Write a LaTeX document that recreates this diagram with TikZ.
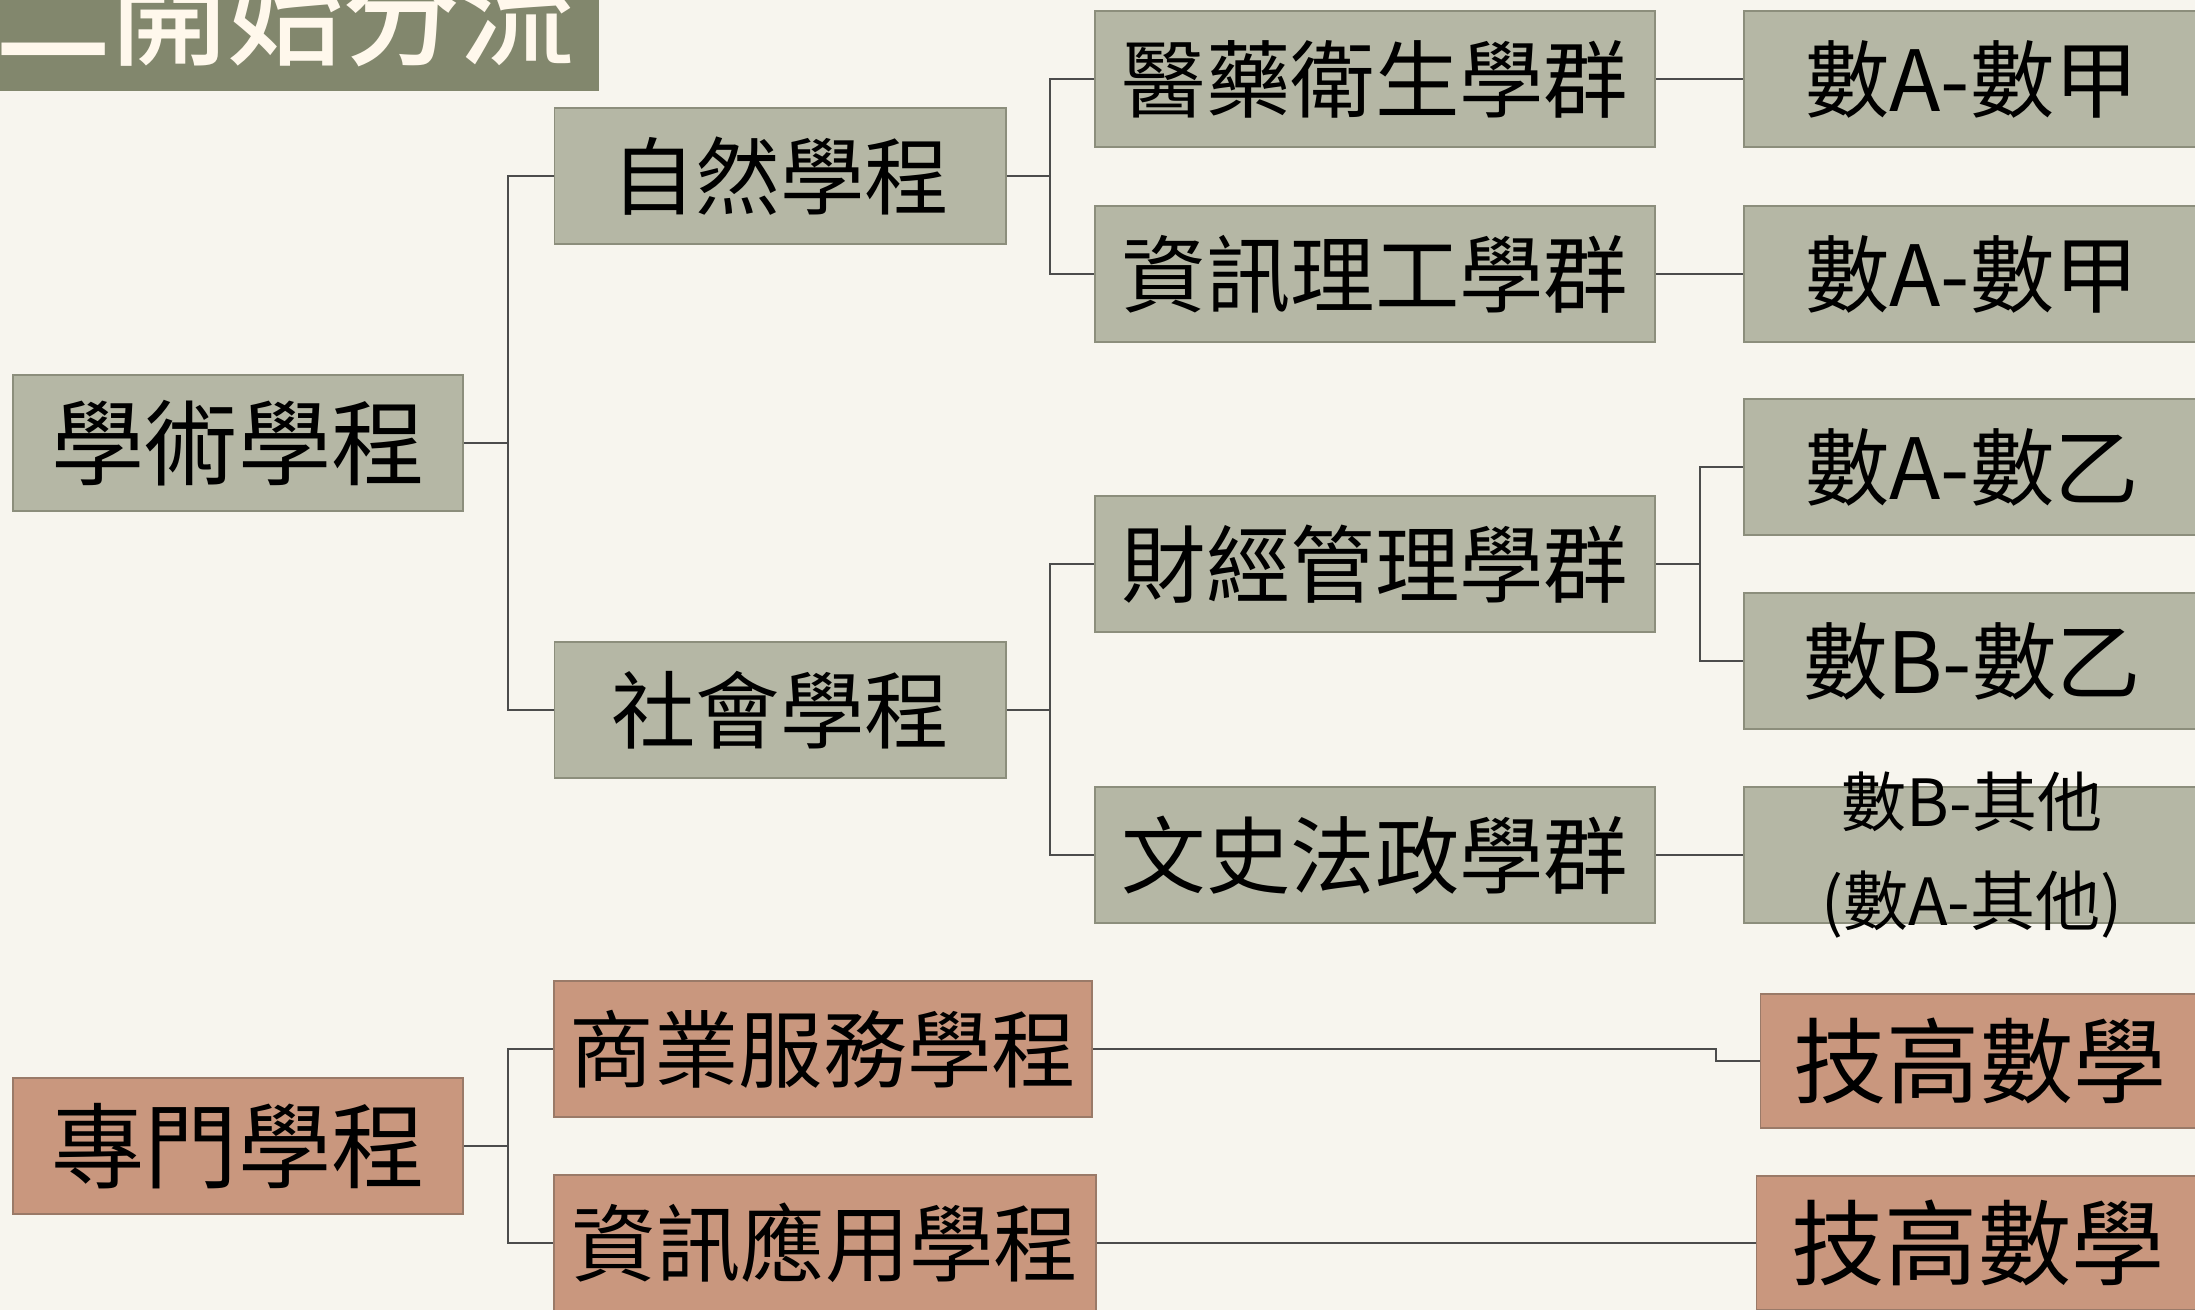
\documentclass[tikz,border=0pt]{standalone}
\usepackage{fontspec}
\setmainfont{Noto Sans CJK TC}
\newfontfamily\titlefont{Noto Sans CJK TC Medium}
\usepackage{tikz}
\usetikzlibrary{calc}
\definecolor{paper}{HTML}{F7F5EE}
\definecolor{sage}{HTML}{B5B7A5}
\definecolor{sageline}{HTML}{8C8E7C}
\definecolor{clay}{HTML}{C9977E}
\definecolor{clayline}{HTML}{9A7A68}
\definecolor{olive}{HTML}{82876D}
\definecolor{cream}{HTML}{FFF8EC}
\tikzstyle{flow}=[
  x=0.01cm,y=-0.01cm
]
\tikzstyle{box}=[
  draw,inner sep=0pt,minimum height=1.36cm,line width=0.5pt
]
\tikzstyle{acadbox}=[
  box,fill=sage,draw=sageline
]
\tikzstyle{vocbox}=[
  box,fill=clay,draw=clayline
]
\tikzstyle{big}=[
  font=\fontsize{26.5}{30}\selectfont
]
\tikzstyle{mid}=[
  font=\fontsize{24}{28}\selectfont
]
\tikzstyle{link}=[
  line width=0.6pt,draw=black!70
]

\begin{document}
\begin{tikzpicture}[flow]
    \useasboundingbox (0,0) rectangle (2195,1310);
    \clip (0,0) rectangle (2195,1310);
    \fill [paper] (0,0) rectangle (2195,1310);
    % title bar
    \fill [olive] (0,0) rectangle (599,91);
    \node (title) at (-17,57) [anchor=base west,text=cream,font=\titlefont\fontsize{33}{36}\selectfont] {二開始分流};
    % tracks
    \node (acad) at (238,443) [acadbox,big,minimum width=4.50cm] {學術學程};
    \node (voc) at (238,1146) [vocbox,big,minimum width=4.50cm] {專門學程};
    \node (nat) at (780,176) [acadbox,mid,minimum width=4.51cm] {自然學程};
    \node (soc) at (780,710) [acadbox,mid,minimum width=4.51cm] {社會學程};
    \node (biz) at (823,1049) [vocbox,mid,minimum width=5.38cm] {商業服務學程};
    \node (info) at (825,1243) [vocbox,mid,minimum width=5.41cm] {資訊應用學程};
    % groups
    \node (med) at (1375,79) [acadbox,mid,minimum width=5.60cm] {醫藥衛生學群};
    \node (eng) at (1375,274) [acadbox,mid,minimum width=5.60cm] {資訊理工學群};
    \node (fin) at (1375,564) [acadbox,mid,minimum width=5.60cm] {財經管理學群};
    \node (hum) at (1375,855) [acadbox,mid,minimum width=5.60cm] {文史法政學群};
    % math
    \node (m1) at (1972,79) [acadbox,mid,minimum width=4.56cm] {數A-數甲};
    \node (m2) at (1972,274) [acadbox,mid,minimum width=4.56cm] {數A-數甲};
    \node (m3) at (1972,467) [acadbox,mid,minimum width=4.56cm] {數A-數乙};
    \node (m4) at (1972,661) [acadbox,mid,minimum width=4.56cm] {數B-數乙};
    \node (m5) at (1972,855) [acadbox,minimum width=4.56cm] {};
    \node (m5txt) at (m5) [align=center,font=\fontsize{18.5}{27.9}\selectfont] {數B-其他\\(數A-其他)};
    \node (t1) at (1980,1061) [vocbox,big,minimum width=4.39cm,minimum height=1.34cm] {技高數學};
    \node (t2) at (1978,1243) [vocbox,big,minimum width=4.43cm,minimum height=1.34cm] {技高數學};
    % bus lines
    \coordinate (bus1) at (508,0);
    \coordinate (bus2) at (1050,0);
    \coordinate (bus3) at (1700,0);
    \coordinate (bus4) at (1716,0);
    \draw [link] (acad.east) -- (acad.east -| bus1) |- (nat.west);
    \draw [link] (acad.east -| bus1) |- (soc.west);
    \draw [link] (voc.east) -- (voc.east -| bus1) |- (biz.west);
    \draw [link] (voc.east -| bus1) |- (info.west);
    \draw [link] (nat.east) -- (nat.east -| bus2) |- (med.west);
    \draw [link] (nat.east -| bus2) |- (eng.west);
    \draw [link] (soc.east) -- (soc.east -| bus2) |- (fin.west);
    \draw [link] (soc.east -| bus2) |- (hum.west);
    \draw [link] (fin.east) -- (fin.east -| bus3) |- (m3.west);
    \draw [link] (fin.east -| bus3) |- (m4.west);
    \draw [link] (med.east) -- (m1.west);
    \draw [link] (eng.east) -- (m2.west);
    \draw [link] (hum.east) -- (m5.west);
    \draw [link] (biz.east) -- (biz.east -| bus4) |- (t1.west);
    \draw [link] (info.east) -- (t2.west);
\end{tikzpicture}
\end{document}
